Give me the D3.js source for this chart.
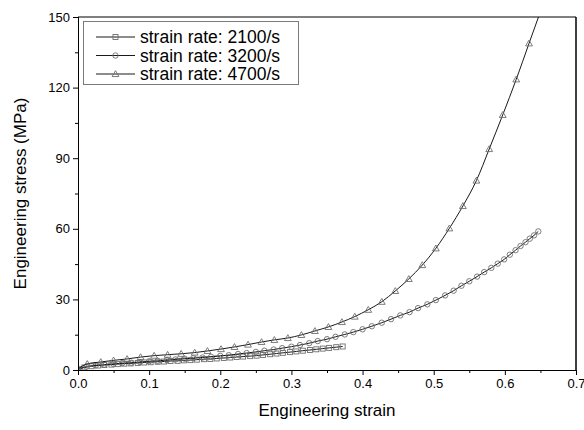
<!DOCTYPE html>
<html>
<head>
<meta charset="utf-8">
<script src="https://cdn.jsdelivr.net/npm/d3@7"></script>
<style>
  html, body { margin: 0; padding: 0; background: #fff; }
  svg { display: block; font-family: "Liberation Sans", Arial, sans-serif; }
</style>
</head>
<body>
<svg id="chart" width="584" height="430"></svg>
<script>
// Stress-strain data for three strain rates
const strain2100 = [0.000, 0.009, 0.019, 0.028, 0.037, 0.047, 0.056, 0.065, 0.074, 0.084,
  0.093, 0.102, 0.112, 0.121, 0.130, 0.140, 0.149, 0.158, 0.167, 0.177,
  0.186, 0.195, 0.205, 0.214, 0.223, 0.232, 0.242, 0.251, 0.260, 0.270,
  0.279, 0.288, 0.298, 0.307, 0.316, 0.326, 0.335, 0.344, 0.353, 0.363, 0.372];
const stress2100 = [0.3, 1.1, 1.6, 1.9, 2.1, 2.3, 2.5, 2.7, 2.8, 3.0,
  3.2, 3.3, 3.5, 3.6, 3.8, 3.9, 4.1, 4.2, 4.4, 4.6,
  4.7, 4.9, 5.1, 5.3, 5.5, 5.7, 5.9, 6.1, 6.4, 6.7,
  7.0, 7.3, 7.6, 7.9, 8.2, 8.5, 8.8, 9.1, 9.4, 9.7, 10.0];

const strain3200 = [0.000, 0.012, 0.025, 0.037, 0.050, 0.062, 0.075, 0.087, 0.100, 0.112,
  0.125, 0.137, 0.150, 0.162, 0.175, 0.187, 0.200, 0.212, 0.225, 0.237,
  0.250, 0.262, 0.275, 0.287, 0.300, 0.312, 0.325, 0.337, 0.350, 0.362,
  0.375, 0.387, 0.400, 0.413, 0.427, 0.440, 0.453, 0.466, 0.478, 0.491,
  0.503, 0.516, 0.528, 0.539, 0.550, 0.561, 0.571, 0.581, 0.590, 0.599,
  0.607, 0.615, 0.622, 0.629, 0.635, 0.641, 0.647];
const stress3200 = [0.3, 1.4, 2.0, 2.3, 2.6, 2.9, 3.1, 3.4, 3.7, 3.9,
  4.2, 4.5, 4.8, 5.0, 5.3, 5.6, 6.0, 6.3, 6.8, 7.2,
  7.7, 8.2, 8.7, 9.3, 9.9, 10.6, 11.4, 12.3, 13.1, 14.1,
  15.1, 16.1, 17.3, 18.6, 20.1, 21.6, 23.2, 24.6, 26.3, 27.9,
  29.7, 31.7, 33.7, 35.8, 37.7, 39.7, 41.6, 43.4, 45.2, 47.0,
  49.0, 50.9, 52.7, 54.3, 55.8, 57.2, 58.9];

const strain4700 = [0.000, 0.013, 0.032, 0.050, 0.069, 0.088, 0.107, 0.126, 0.145, 0.164,
  0.182, 0.201, 0.220, 0.239, 0.258, 0.276, 0.295, 0.314, 0.333, 0.352,
  0.371, 0.389, 0.408, 0.427, 0.446, 0.465, 0.484, 0.503, 0.522, 0.541,
  0.560, 0.578, 0.597, 0.616, 0.634, 0.652];
const stress4700 = [0.5, 2.6, 3.4, 4.1, 4.7, 5.5, 6.1, 6.5, 6.9, 7.4,
  8.1, 8.9, 9.8, 10.8, 11.9, 12.8, 13.6, 14.9, 16.6, 18.3,
  20.4, 22.7, 25.6, 29.0, 33.6, 38.7, 44.6, 51.7, 60.2, 69.7,
  80.5, 93.9, 108.4, 123.5, 138.8, 154.0];

const seriesNames = ["strain rate: 2100/s", "strain rate: 3200/s", "strain rate: 4700/s"];
const xTicks = [0.0, 0.1, 0.2, 0.3, 0.4, 0.5, 0.6, 0.7];
const yTicks = [0, 30, 60, 90, 120, 150];

const svg = d3.select("#chart");
const margin = { left: 78, right: 8, top: 17, bottom: 60 };
const W = 584, H = 430;
const x = d3.scaleLinear().domain([0, 0.7]).range([margin.left, W - margin.right]);
const y = d3.scaleLinear().domain([0, 150]).range([H - margin.bottom, margin.top]);

const markerColor = "#6e6e6e";

svg.append("defs").append("clipPath").attr("id", "plot-clip")
  .append("rect")
  .attr("x", x(0)).attr("y", y(150))
  .attr("width", x(0.7) - x(0)).attr("height", y(0) - y(150));

const series = [
  { name: seriesNames[0], sx: strain2100, sy: stress2100, shape: "square" },
  { name: seriesNames[1], sx: strain3200, sy: stress3200, shape: "circle" },
  { name: seriesNames[2], sx: strain4700, sy: stress4700, shape: "triangle" }
];

function drawMarker(g, shape, cx, cy) {
  if (shape === "square") {
    g.append("rect").attr("x", cx - 2.5).attr("y", cy - 2.5)
      .attr("width", 5).attr("height", 5)
      .attr("fill", "none").attr("stroke", markerColor).attr("stroke-width", 0.9);
  } else if (shape === "circle") {
    g.append("circle").attr("cx", cx).attr("cy", cy).attr("r", 2.7)
      .attr("fill", "none").attr("stroke", markerColor).attr("stroke-width", 0.9);
  } else {
    g.append("path")
      .attr("d", d3.symbol(d3.symbolTriangle, 20)())
      .attr("transform", `translate(${cx},${cy + 0.6})`)
      .attr("fill", "none").attr("stroke", markerColor).attr("stroke-width", 0.9);
  }
}

const plot = svg.append("g").attr("clip-path", "url(#plot-clip)");
const line = d3.line().curve(d3.curveMonotoneX);

series.forEach(s => {
  const pts = s.sx.map((v, i) => [x(v), y(s.sy[i])]);
  plot.append("path").attr("d", line(pts))
    .attr("fill", "none").attr("stroke", "#000").attr("stroke-width", 0.9);
  const mg = plot.append("g");
  pts.forEach(p => drawMarker(mg, s.shape, p[0], p[1]));
});

// Axes
const xAxis = d3.axisBottom(x).tickValues(xTicks).tickFormat(d3.format(".1f")).tickSize(5).tickPadding(4);
const xMinor = d3.axisBottom(x).tickValues([0.05, 0.15, 0.25, 0.35, 0.45, 0.55, 0.65]).tickFormat("").tickSize(3);
const yAxis = d3.axisLeft(y).tickValues(yTicks).tickFormat(d3.format("d")).tickSize(5).tickPadding(3);
const yMinor = d3.axisLeft(y).tickValues([15, 45, 75, 105, 135]).tickFormat("").tickSize(3);

function styleAxis(g) {
  g.selectAll("path.domain").attr("stroke", "#000").attr("stroke-width", 1);
  g.selectAll(".tick line").attr("stroke", "#000");
  g.selectAll(".tick text").attr("font-size", 13).attr("fill", "#000")
    .attr("font-family", "'Liberation Sans', Arial, sans-serif");
}

svg.append("g").attr("transform", `translate(0,${y(0)})`).call(xMinor).call(styleAxis);
svg.append("g").attr("transform", `translate(0,${y(0)})`).call(xAxis).call(styleAxis);
svg.append("g").attr("transform", `translate(${x(0)},0)`).call(yMinor).call(styleAxis);
svg.append("g").attr("transform", `translate(${x(0)},0)`).call(yAxis).call(styleAxis);

// Frame top and right
svg.append("line").attr("x1", x(0)).attr("x2", x(0.7)).attr("y1", y(150)).attr("y2", y(150))
  .attr("stroke", "#000").attr("stroke-width", 1);
svg.append("line").attr("x1", x(0.7)).attr("x2", x(0.7)).attr("y1", y(150)).attr("y2", y(0))
  .attr("stroke", "#000").attr("stroke-width", 1.5);

// Axis titles
svg.append("text").attr("x", (x(0) + x(0.7)) / 2).attr("y", 416)
  .attr("text-anchor", "middle").attr("font-size", 17).text("Engineering strain");
svg.append("text")
  .attr("transform", `translate(26,${(y(0) + y(150)) / 2}) rotate(-90)`)
  .attr("text-anchor", "middle").attr("font-size", 17).text("Engineering stress (MPa)");

// Legend
const legend = svg.append("g");
const lx = 83, ly = 21, lw = 215, lh = 63;
legend.append("rect").attr("x", lx + 0.5).attr("y", ly + 0.5).attr("width", lw).attr("height", lh)
  .attr("fill", "#fff").attr("stroke", "#7a7a7a").attr("stroke-width", 1);
series.forEach((s, i) => {
  const cy = ly + 16 + i * 18.5;
  legend.append("line").attr("x1", 96).attr("x2", 135).attr("y1", cy).attr("y2", cy)
    .attr("stroke", "#000").attr("stroke-width", 0.9);
  drawMarker(legend, s.shape, 115.5, cy);
  legend.append("text").attr("x", 140).attr("y", cy + 6)
    .attr("font-size", 17.5).attr("fill", "#000").text(s.name);
});
</script>
</body>
</html>
